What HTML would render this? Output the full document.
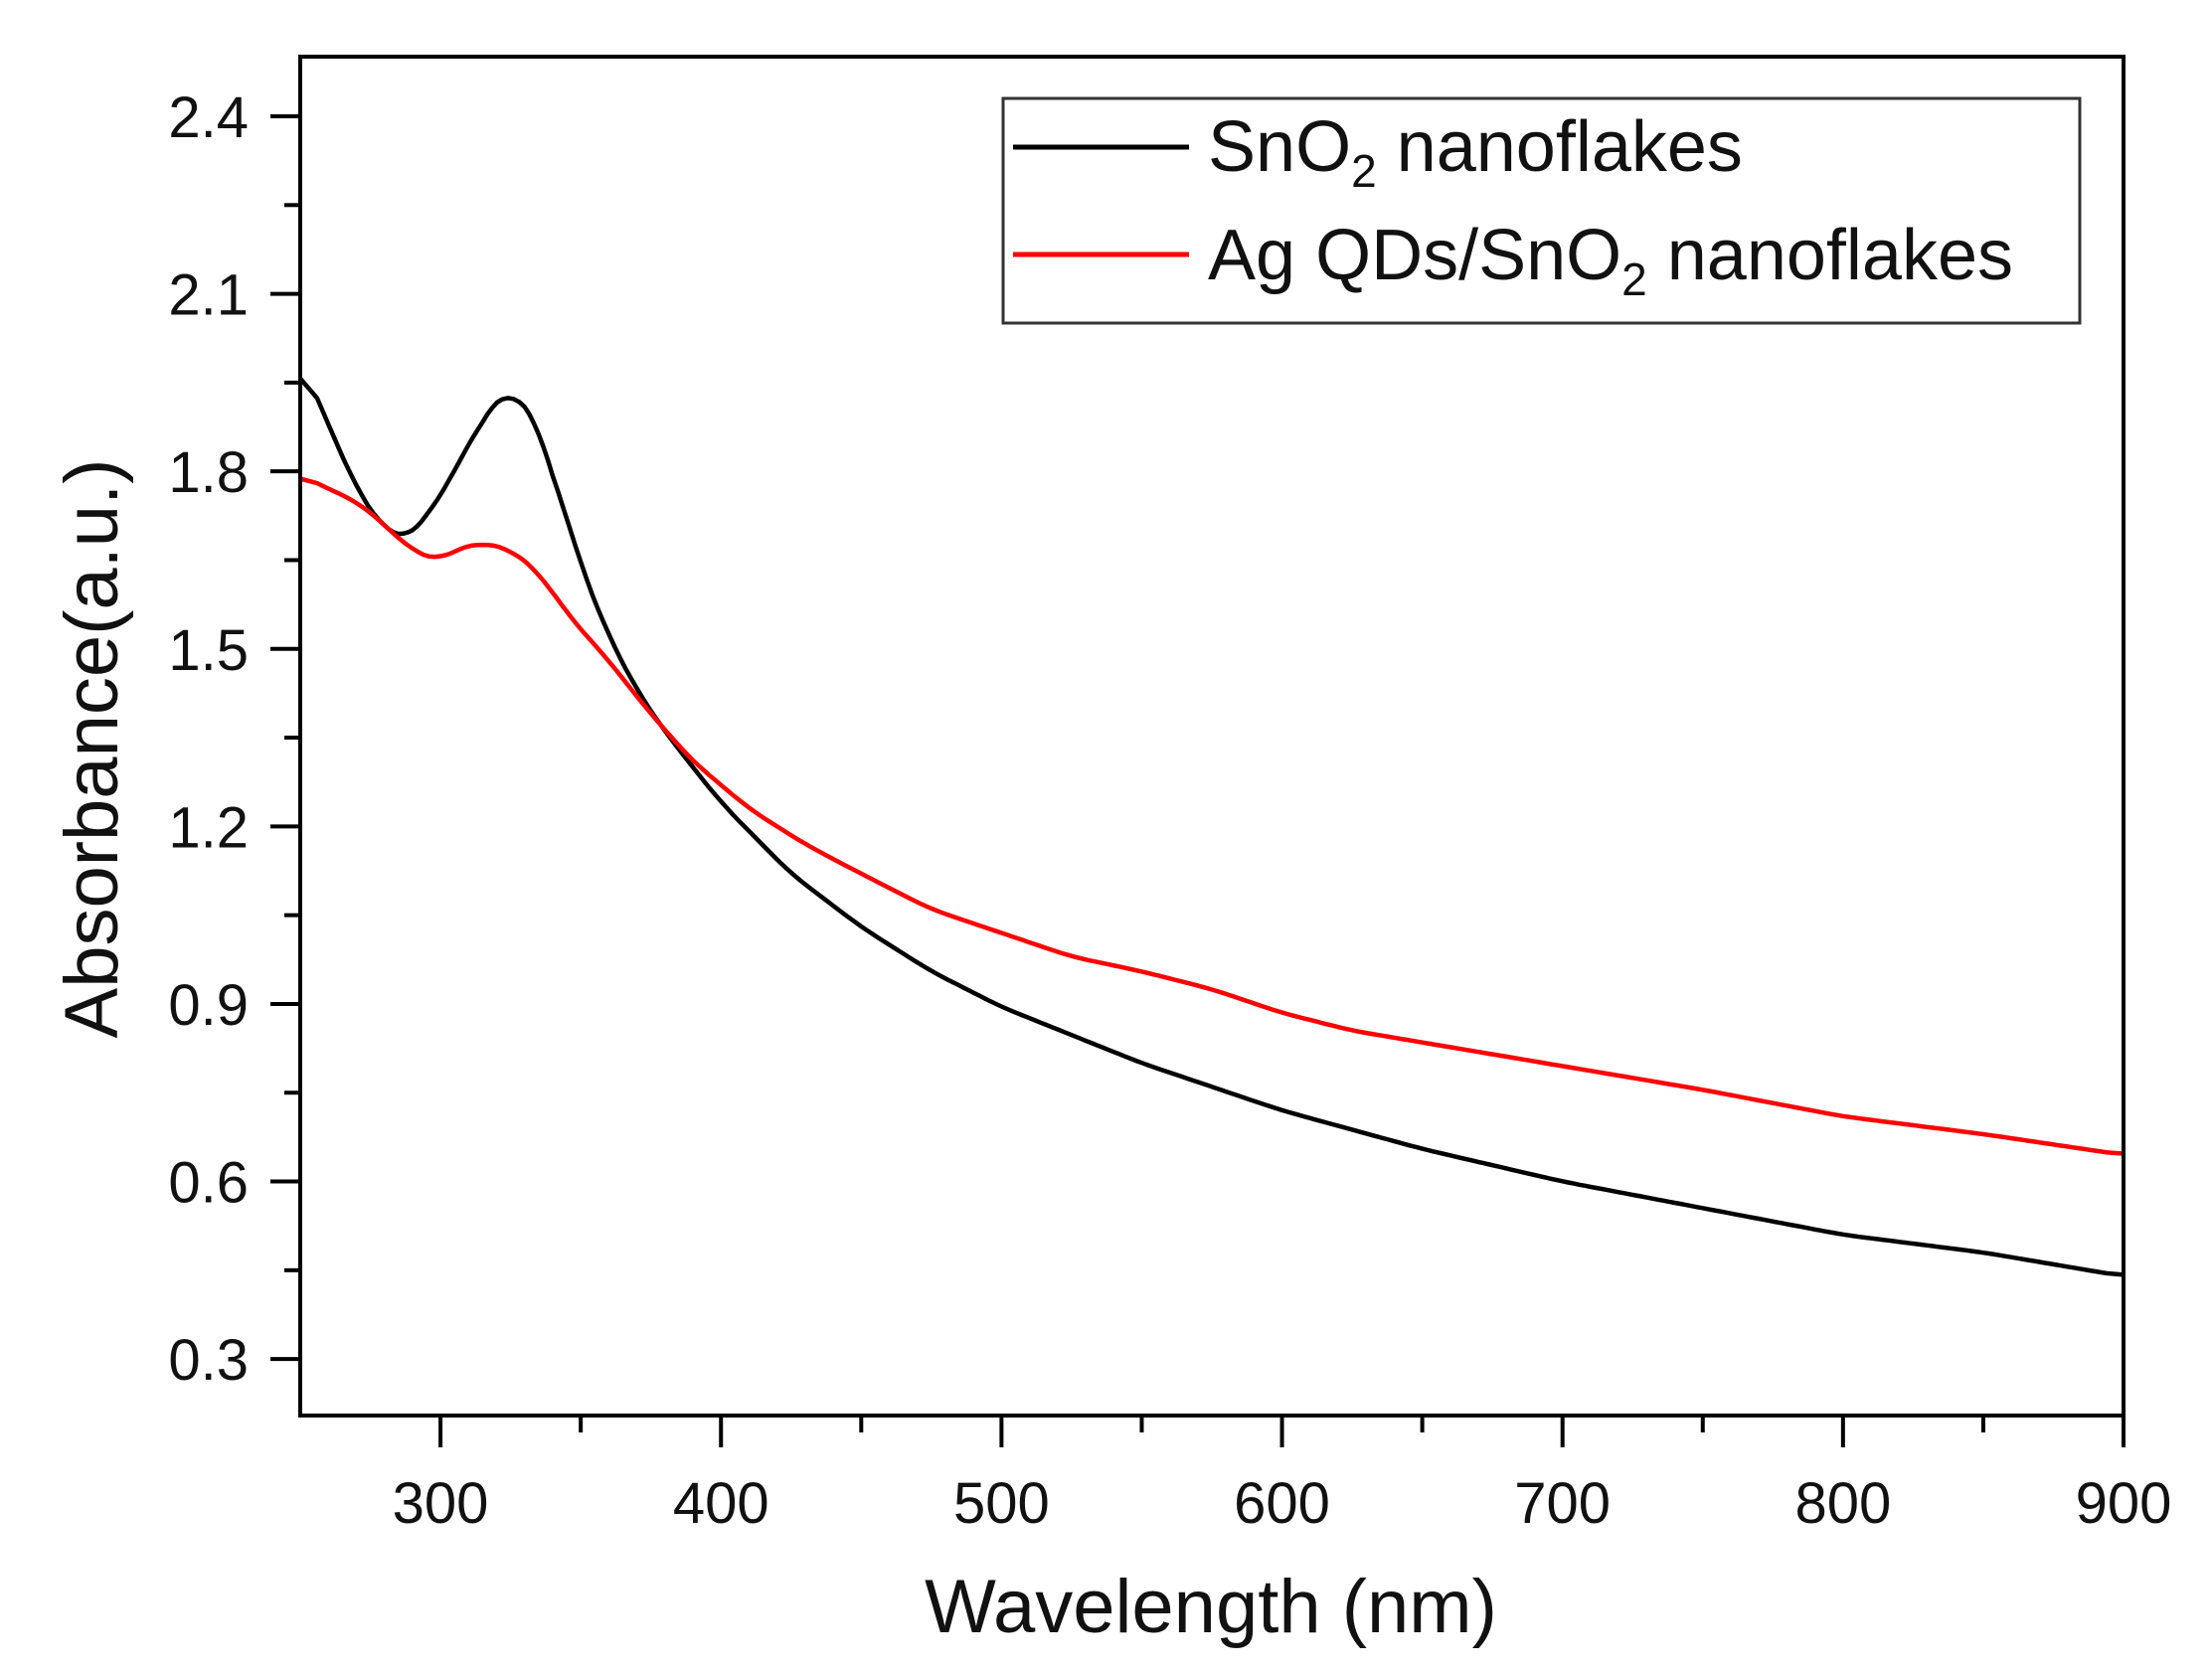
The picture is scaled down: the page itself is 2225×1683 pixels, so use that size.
<!DOCTYPE html>
<html><head><meta charset="utf-8"><style>
html,body{margin:0;padding:0;background:#fff}
svg text{font-family:"Liberation Sans",Arial,sans-serif;fill:#111}
</style></head><body>
<svg id="s" width="2225" height="1678" viewBox="0 0 2225 1678" xmlns="http://www.w3.org/2000/svg">
<rect x="0" y="0" width="2225" height="1678" fill="#fff"/>
<g id="ticks" stroke="#000" stroke-width="4"></g>
<g id="labels" font-size="58" ></g>
<path id="blk" fill="none" stroke="#000" stroke-width="4.5" stroke-linejoin="round"/>
<path id="red" fill="none" stroke="#f00" stroke-width="4.5" stroke-linejoin="round"/>
<rect x="302" y="57" width="1834" height="1367" fill="none" stroke="#000" stroke-width="4"/>
<rect x="1009" y="99" width="1083" height="226" fill="#fff" stroke="#333" stroke-width="3"/>
<line x1="1019" y1="148" x2="1196" y2="148" stroke="#000" stroke-width="5"/>
<line x1="1019" y1="256" x2="1196" y2="256" stroke="#f00" stroke-width="5"/>
<text x="1215" y="172" font-size="72">SnO<tspan font-size="46" dy="16">2</tspan><tspan dy="-16"> nanoflakes</tspan></text>
<text x="1215" y="281" font-size="72">Ag QDs/SnO<tspan font-size="46" dy="16">2</tspan><tspan dy="-16"> nanoflakes</tspan></text>
<text x="1218" y="1642" font-size="76" text-anchor="middle">Wavelength (nm)</text>
<text transform="translate(118,753) rotate(-90)" font-size="76" text-anchor="middle">Absorbance(a.u.)</text>
</svg>
<script>
var X=function(w){return 302+(w-250)*1834/650}, Y=function(v){return 117+(2.4-v)*595.3};
var t=document.getElementById('ticks'),l=document.getElementById('labels'),h='',lh='';
for(var v=0.3;v<=2.41;v+=0.3){var y=Y(v);h+='<line x1="272" y1="'+y+'" x2="302" y2="'+y+'"/>';lh+='<text x="250" y="'+(y+21)+'" text-anchor="end">'+v.toFixed(1)+'</text>';
 var y2=Y(v+0.15);if(v+0.15<2.5)h+='<line x1="286" y1="'+y2+'" x2="302" y2="'+y2+'"/>';}
for(var w=250;w<=900;w+=50){var x=X(w);if(w==250)continue;h+='<line x1="'+x+'" y1="1424" x2="'+x+'" y2="'+(1424+(w%100==0?32:17))+'"/>';if(w%100==0)lh+='<text x="'+x+'" y="1532" text-anchor="middle">'+w+'</text>';}
t.innerHTML=h;l.innerHTML=lh;
function mk(d){var p=[];for(var i=0;i<d.length-1;i++){var a=d[i],b=d[i+1],n=Math.max(2,Math.round((b[0]-a[0])/2));for(var k=0;k<n;k++){var f=k/n;p.push([a[0]+(b[0]-a[0])*f,a[1]+(b[1]-a[1])*f]);}}p.push(d[d.length-1]);
 var s=p.map(function(q,i){var sum=0,c=0;for(var j=-3;j<=3;j++){var r=p[i+j];if(r){sum+=r[1];c++;}}return [q[0],sum/c];});
 return 'M'+s.map(function(q){return X(q[0]).toFixed(1)+','+Y(q[1]).toFixed(1)}).join(' L');}
var B=[[250,1.99],[260,1.88],[270,1.77],[280,1.70],[285,1.69],[290,1.695],[295,1.72],[305,1.80],[315,1.89],[322,1.93],[326,1.935],[330,1.915],[335,1.87],[340,1.80],[350,1.64],[360,1.52],[370,1.43],[380,1.36],[400,1.24],[425,1.12],[450,1.03],[475,0.955],[500,0.895],[550,0.80],[600,0.72],[650,0.655],[700,0.60],[750,0.555],[800,0.51],[850,0.48],[900,0.44]];
var R=[[250,1.795],[260,1.77],[270,1.75],[280,1.71],[290,1.665],[300,1.648],[305,1.668],[315,1.68],[325,1.668],[335,1.63],[345,1.56],[360,1.48],[375,1.39],[390,1.31],[410,1.23],[430,1.17],[450,1.12],[475,1.06],[500,1.02],[525,0.98],[550,0.955],[575,0.925],[600,0.885],[625,0.855],[650,0.835],[700,0.795],[750,0.755],[800,0.71],[850,0.68],[900,0.645]];
document.getElementById('blk').setAttribute('d',mk(B));
document.getElementById('red').setAttribute('d',mk(R));
</script>
</body></html>
